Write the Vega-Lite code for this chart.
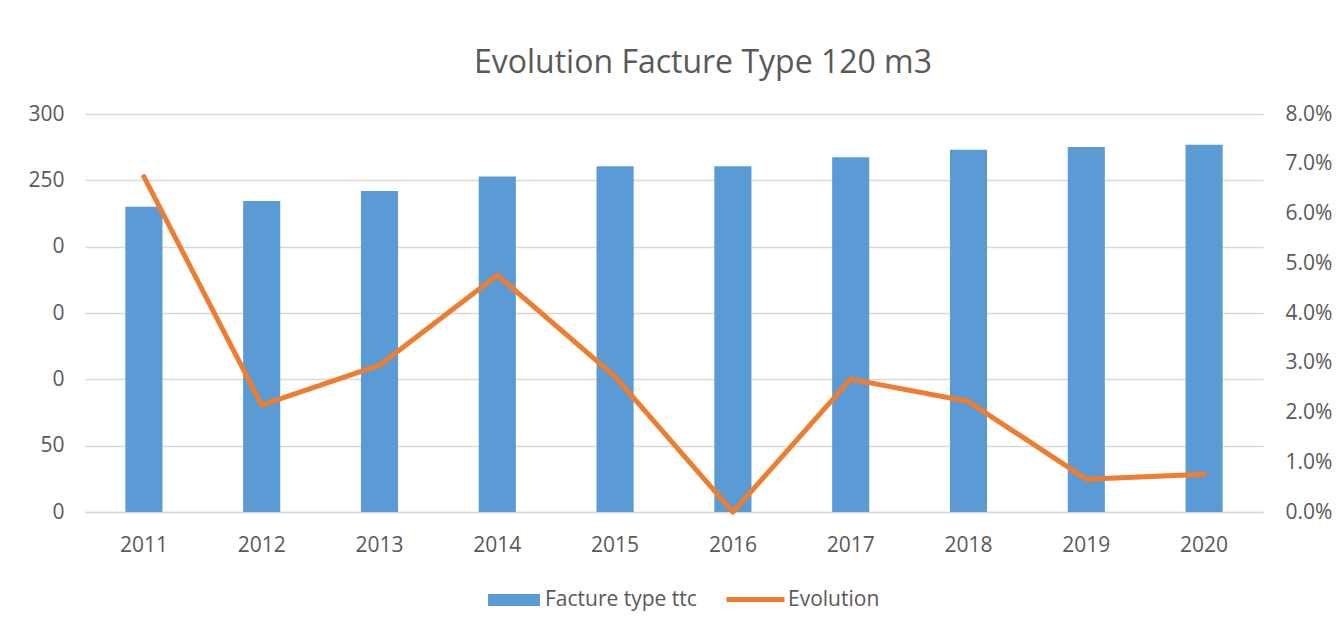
{
  "$schema": "https://vega.github.io/schema/vega-lite/v6.json",
  "autosize": "none",
  "width": 1178,
  "height": 398,
  "padding": {"left": 85, "top": 114, "right": 75, "bottom": 116},
  "background": "white",
  "title": {
    "text": "Evolution Facture Type 120 m3",
    "font": "Open Sans",
    "fontSize": 32,
    "fontWeight": "normal",
    "color": "#595959",
    "anchor": "middle",
    "dx": 29,
    "offset": 23
  },
  "config": {
    "view": {"stroke": null},
    "font": "Open Sans"
  },
  "data": {
    "values": [
      {"year": "2011", "facture": 230.1, "evolution": 0.0674},
      {"year": "2012", "facture": 234.4, "evolution": 0.0215},
      {"year": "2013", "facture": 242.0, "evolution": 0.0295},
      {"year": "2014", "facture": 252.8, "evolution": 0.0476},
      {"year": "2015", "facture": 260.6, "evolution": 0.0272},
      {"year": "2016", "facture": 260.6, "evolution": 0.0},
      {"year": "2017", "facture": 267.4, "evolution": 0.0267},
      {"year": "2018", "facture": 273.1, "evolution": 0.0222},
      {"year": "2019", "facture": 275.1, "evolution": 0.0066},
      {"year": "2020", "facture": 276.9, "evolution": 0.0076}
    ]
  },
  "encoding": {
    "x": {
      "field": "year",
      "type": "ordinal",
      "scale": {"paddingInner": 0, "paddingOuter": 0},
      "axis": {
        "title": null,
        "labelAngle": 0,
        "labelFont": "Open Sans",
        "labelFontSize": 21,
        "labelColor": "#595959",
        "labelPadding": 22,
        "ticks": false,
        "tickSize": 0,
        "domain": true,
        "domainColor": "#D9D9D9",
        "domainWidth": 1.5,
        "grid": false
      }
    }
  },
  "layer": [
    {
      "mark": {"type": "bar", "width": {"band": 0.315}},
      "encoding": {
        "y": {
          "field": "facture",
          "type": "quantitative",
          "scale": {"domain": [0, 300], "nice": false},
          "axis": {
            "title": null,
            "values": [0, 50, 100, 150, 200, 250, 300],
            "labelExpr": "datum.value >= 100 && datum.value <= 200 ? '0' : datum.label",
            "labelFont": "Open Sans",
            "labelFontSize": 21,
            "labelColor": "#595959",
            "labelPadding": 21,
            "ticks": false,
            "tickSize": 0,
            "domain": false,
            "grid": true,
            "gridColor": "#D9D9D9",
            "gridWidth": 1.5
          }
        },
        "fill": {
          "datum": "Facture type ttc",
          "scale": {"range": ["#5B9BD5"]},
          "legend": {
            "orient": "none",
            "legendX": 403,
            "legendY": 460,
            "title": null,
            "symbolType": "M-1,-0.23H1V0.23H-1Z",
            "symbolSize": 2704,
            "symbolStrokeWidth": 0,
            "labelFont": "Open Sans",
            "labelFontSize": 21,
            "labelColor": "#595959",
            "labelOffset": 5
          }
        }
      }
    },
    {
      "mark": {"type": "line", "strokeWidth": 5, "strokeCap": "round", "strokeJoin": "round"},
      "encoding": {
        "y": {
          "field": "evolution",
          "type": "quantitative",
          "scale": {"domain": [0, 0.08], "nice": false},
          "axis": {
            "orient": "right",
            "title": null,
            "format": ".1%",
            "values": [0, 0.01, 0.02, 0.03, 0.04, 0.05, 0.06, 0.07, 0.08],
            "labelFont": "Open Sans",
            "labelFontSize": 21,
            "labelColor": "#595959",
            "labelPadding": 22,
            "ticks": false,
            "tickSize": 0,
            "domain": false,
            "grid": false
          }
        },
        "stroke": {
          "datum": "Evolution",
          "scale": {"range": ["#ED7D31"]},
          "legend": {
            "orient": "none",
            "legendX": 639,
            "legendY": 454,
            "title": null,
            "symbolType": "stroke",
            "symbolSize": 3364,
            "symbolStrokeWidth": 5,
            "labelFont": "Open Sans",
            "labelFontSize": 21,
            "labelColor": "#595959",
            "labelOffset": 1
          }
        }
      }
    }
  ],
  "resolve": {"scale": {"y": "independent"}}
}
